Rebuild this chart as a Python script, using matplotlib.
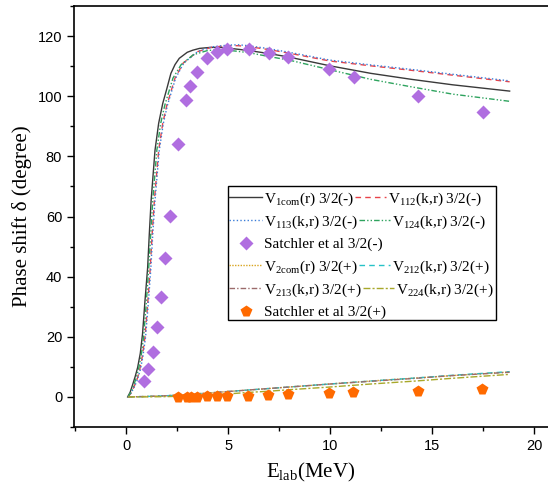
import matplotlib
matplotlib.use('Agg')
import matplotlib.pyplot as plt
from matplotlib.lines import Line2D
from matplotlib.patches import Rectangle

plt.rcParams['font.family'] = 'Liberation Serif'
plt.rcParams['mathtext.fontset'] = 'custom'
plt.rcParams['mathtext.rm'] = 'Liberation Serif'
plt.rcParams['mathtext.it'] = 'Liberation Serif:italic'

# --- 3/2(-) channel curves ---
x_v1com = [0.08, 0.2, 0.33, 0.45, 0.57, 0.7, 0.81, 0.93, 1.06, 1.14, 1.23, 1.42, 1.6, 1.8, 2.0, 2.2, 2.4, 2.61,
           3.0, 3.27, 3.6, 4.08, 4.6, 5, 6, 7, 8, 10, 12, 14, 16, 18.8]
y_v1com = [0, 1.5, 4.2, 6.8, 9.8, 14.5, 21, 32, 43, 54, 65.3, 82, 91, 97.6, 102.5, 107.6, 110.5, 112.6,
           114.6, 115.3, 115.9, 116.2, 116.3, 116.0, 115.2, 114.2, 113.0, 110.1, 107.6, 105.6, 103.8, 101.7]

x_v112 = [0.1, 0.25, 0.4, 0.55, 0.67, 0.8, 0.93, 1.05, 1.18, 1.28, 1.39, 1.6, 1.8, 2.0, 2.4, 2.8,
          3.5, 4.2, 5.0, 5.5, 6, 7, 8, 10, 12, 14, 16, 18.8]
y_v112 = [0, 1.3, 3.5, 6.0, 9, 13.5, 20, 30, 42, 54, 65.3, 82, 91, 97, 106, 111,
          114.8, 116.3, 116.8, 116.8, 116.5, 115.5, 114.3, 111.7, 110.1, 108.6, 107.0, 104.8]

x_v113 = [0.1, 0.25, 0.42, 0.57, 0.7, 0.83, 0.96, 1.08, 1.21, 1.31, 1.42, 1.63, 1.83, 2.03, 2.43, 2.83,
          3.5, 4.2, 5.0, 5.5, 6, 7, 8, 10, 12, 14, 16, 18.8]
y_v113 = [0, 1.3, 3.5, 6.0, 9, 13.5, 20, 30, 42, 54, 65.3, 82, 91, 97, 106, 111,
          114.8, 116.4, 117.0, 117.1, 116.8, 115.8, 114.6, 112.0, 110.4, 108.9, 107.3, 105.1]

x_v124 = [0.1, 0.22, 0.37, 0.5, 0.62, 0.75, 0.87, 0.99, 1.11, 1.21, 1.31, 1.51, 1.7, 1.9, 2.3, 2.7,
          3.3, 4.0, 4.6, 5, 6, 7, 8, 10, 12, 14, 16, 18.8]
y_v124 = [0, 1.4, 3.8, 6.3, 9.5, 14, 20.5, 31, 42.5, 54, 65.3, 82, 91, 97, 106, 110.5,
          113.8, 115.2, 115.5, 115.3, 114.5, 113.2, 112.0, 108.8, 105.6, 103.1, 100.7, 98.3]

# --- 3/2(+) channel curves ---
x_low = [0.1, 1, 2, 3, 4, 5, 6, 7, 8, 10, 12, 14, 16, 18.8]
y_v2com = [0, 0.15, 0.4, 0.8, 1.3, 1.8, 2.3, 2.8, 3.3, 4.3, 5.3, 6.2, 7.1, 8.3]
y_v212 = [0, 0.15, 0.4, 0.8, 1.3, 1.8, 2.3, 2.8, 3.3, 4.3, 5.3, 6.2, 7.2, 8.4]
y_v213 = [0, 0.15, 0.4, 0.8, 1.3, 1.8, 2.3, 2.8, 3.3, 4.3, 5.2, 6.1, 7.1, 8.2]
y_v224 = [0, 0.02, 0.1, 0.3, 0.6, 1.0, 1.5, 1.9, 2.4, 3.3, 4.3, 5.2, 6.2, 7.5]

# --- Satchler et al data ---
x_sat_minus = [0.9, 1.09, 1.31, 1.52, 1.71, 1.93, 2.14, 2.55, 2.96, 3.15, 3.46, 3.95, 4.44, 4.95,
               6.01, 6.99, 7.96, 9.93, 11.16, 14.33, 17.48]
y_sat_minus = [5.4, 9.4, 15.1, 23.1, 33.3, 46.1, 60.3, 84.2, 98.9, 103.4, 108.1, 112.6, 114.6, 115.7,
               115.7, 114.5, 112.9, 109.0, 106.4, 100.2, 94.7]

x_sat_plus = [2.56, 2.97, 3.19, 3.46, 3.95, 4.44, 4.95, 5.98, 6.98, 7.96, 9.93, 11.14, 14.33, 17.47]
y_sat_plus = [0.0, 0.0, 0.1, 0.1, 0.2, 0.2, 0.3, 0.4, 0.7, 0.9, 1.4, 1.6, 2.1, 2.8]

# line styles (colour, dash pattern)
st_v1com = dict(color='#3a3a3a', ls='-')
st_v112 = dict(color='#e8434a', ls=(0, (4, 3)))
st_v113 = dict(color='#3b7dd8', ls=(0, (1, 1.6)))
st_v124 = dict(color='#2ea35e', ls=(0, (4, 1.5, 1, 1.5, 1, 1.5)))
st_v2com = dict(color='#d9a520', ls=(0, (1, 1)))
st_v212 = dict(color='#27c2c7', ls=(0, (4, 3)))
st_v213 = dict(color='#9b6b6b', ls=(0, (4, 1.5, 1, 1.5)))
st_v224 = dict(color='#a8a82a', ls=(0, (5, 1.5, 1.5, 1.5)))
st_sat_minus = dict(marker='D', color='#b06ee0', ms=7)
st_sat_plus = dict(marker='p', color='#ff6a00', ms=8.5)

fig = plt.figure(figsize=(5.48, 5.0), dpi=100)
ax = fig.add_axes([0.135, 0.146, 0.865, 0.842])

lw = 1.0
ax.plot(x_v1com, y_v1com, lw=lw, **st_v1com)
ax.plot(x_v112, y_v112, lw=lw, **st_v112)
ax.plot(x_v113, y_v113, lw=lw, **st_v113)
ax.plot(x_v124, y_v124, lw=lw, **st_v124)
ax.plot(x_sat_minus, y_sat_minus, ls='none', mec='none', **st_sat_minus)

ax.plot(x_low, y_v2com, lw=lw, **st_v2com)
ax.plot(x_low, y_v212, lw=lw, **st_v212)
ax.plot(x_low, y_v213, lw=lw, **st_v213)
ax.plot(x_low, y_v224, lw=lw, **st_v224)
ax.plot(x_sat_plus, y_sat_plus, ls='none', mec='none', **st_sat_plus)

ax.set_xlim(-2.55, 20.68)
ax.set_ylim(-10, 130)
ax.set_xticks([0, 5, 10, 15, 20])
ax.set_xticks([-2.5, 2.5, 7.5, 12.5, 17.5], minor=True)
ax.set_yticks([0, 20, 40, 60, 80, 100, 120])
ax.set_yticks([-10, 10, 30, 50, 70, 90, 110, 130], minor=True)
ax.tick_params(which='major', direction='out', length=5, width=1)
ax.tick_params(which='minor', direction='out', length=3, width=1)
for lab in ax.get_xticklabels() + ax.get_yticklabels():
    lab.set_family('Liberation Sans')
    lab.set_fontsize(10.5)
for sp in ax.spines.values():
    sp.set_linewidth(1.2)
ax.spines['right'].set_visible(False)

ax.set_xlabel(r'E$_{\mathrm{lab}}$(MeV)', fontsize=15, labelpad=6)
ax.set_ylabel('Phase shift δ (degree)', fontsize=15, labelpad=4)

# Origin-style legend: entries flow left to right in each row
rows = [
    [(st_v1com, r'V$_{\mathrm{1com}}$(r) 3/2(-)'), (st_v112, r'V$_{\mathrm{112}}$(k,r) 3/2(-)')],
    [(st_v113, r'V$_{\mathrm{113}}$(k,r) 3/2(-)'), (st_v124, r'V$_{\mathrm{124}}$(k,r) 3/2(-)')],
    [(st_sat_minus, 'Satchler et al 3/2(-)')],
    [(st_v2com, r'V$_{\mathrm{2com}}$(r) 3/2(+)'), (st_v212, r'V$_{\mathrm{212}}$(k,r) 3/2(+)')],
    [(st_v213, r'V$_{\mathrm{213}}$(k,r) 3/2(+)'), (st_v224, r'V$_{\mathrm{224}}$(k,r) 3/2(+)')],
    [(st_sat_plus, 'Satchler et al 3/2(+)')],
]
row_py = [197, 220, 243, 265, 288, 311]


def fx(px):
    return (px - 74) / 474.0


def fy(py):
    return (427 - py) / 421.0


ax.add_patch(Rectangle((fx(228), fy(320)), fx(496) - fx(228), fy(186) - fy(320),
                       transform=ax.transAxes, facecolor='white', edgecolor='black',
                       lw=1.0, zorder=5, clip_on=False))
renderer = fig.canvas.get_renderer()
for py, entries in zip(row_py, rows):
    px = 229
    for k, (st, lab) in enumerate(entries):
        hl = 33 if k == 0 else 31
        if 'marker' in st:
            ax.add_line(Line2D([fx(px + 17)], [fy(py)], transform=ax.transAxes, ls='none', mec='none',
                               zorder=6, clip_on=False, **st))
            tx = px + 35
        else:
            ax.add_line(Line2D([fx(px), fx(px + hl)], [fy(py), fy(py)], transform=ax.transAxes,
                               lw=lw, zorder=6, clip_on=False, **st))
            tx = px + hl + 2
        t = ax.text(fx(tx), fy(py), lab, transform=ax.transAxes, fontsize=11,
                    ha='left', va='center_baseline', zorder=7)
        px = t.get_window_extent(renderer).x1 + 1

fig.savefig('out.png', dpi=100)
